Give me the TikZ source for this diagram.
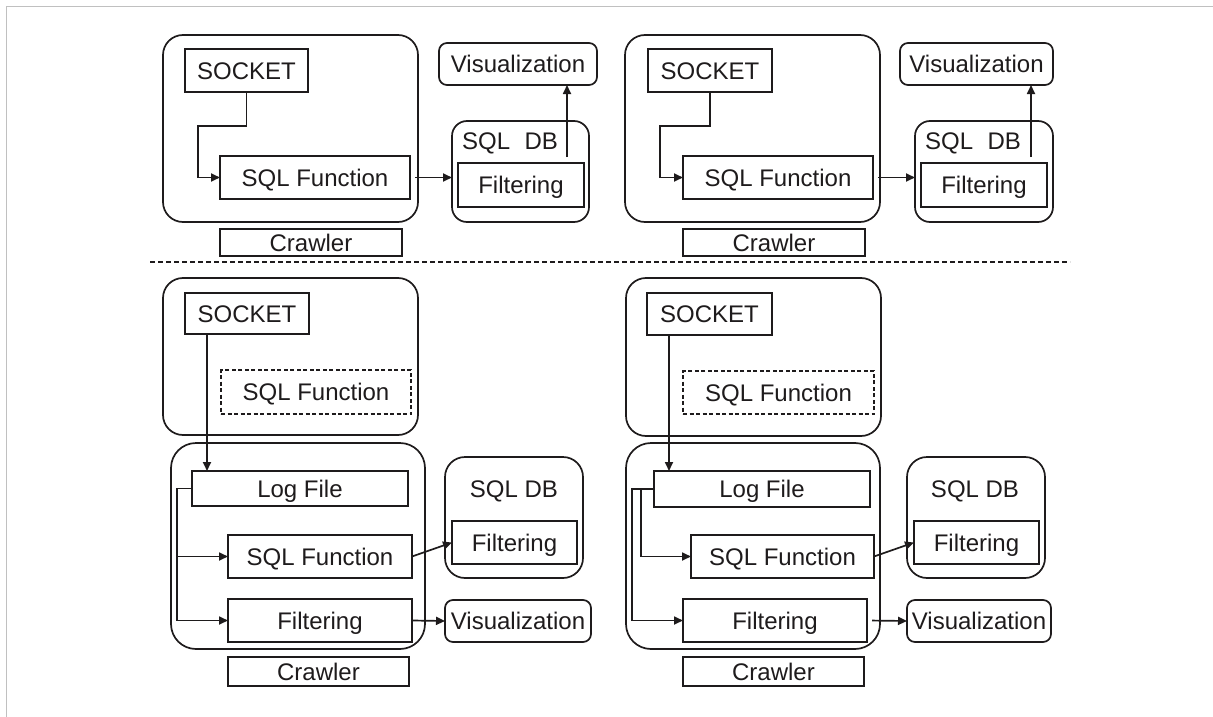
\documentclass[tikz,border=0pt]{standalone}
\usepackage{fontspec}
\setmainfont{Liberation Sans}
\usetikzlibrary{arrows.meta,calc}

\definecolor{ink}{RGB}{30,27,28}
\definecolor{framegray}{RGB}{192,192,192}

% box given by its corners (x1,y1)-(x2,y2) in pixel units, y downwards
\newcommand\bx[6]{\node[#1, minimum width={(#4-#2)*1pt}, minimum height={(#5-#3)*1pt}] (#6) at ({(#2+#4)/2},{(#3+#5)/2})}

\tikzset{
  lbl/.style={font=\fontsize{24}{28}\selectfont, text=ink, inner sep=0pt},
  box/.style={lbl, draw=ink, line width=1.9pt, outer sep=0pt, text height=17pt, text depth=0pt},
  dbox/.style={box, dash pattern=on 4pt off 2.5pt, line width=1.6pt},
  rbox/.style={box, line width=1.7pt, rounded corners=8pt},
  group/.style={draw=ink, line width=1.7pt, inner sep=0pt, outer sep=0pt, rounded corners=#1},
  arr/.style={draw=ink, line width=1.7pt, -{Triangle[length=9pt,width=8pt]}},
  sep/.style={draw=ink, line width=1.3pt, dash pattern=on 5pt off 3pt},
}

\begin{document}
\begin{tikzpicture}[x=1pt, y=-1pt]
\useasboundingbox (0,0) rectangle (1213,717);
\fill[white] (0,0) rectangle (1213,717);
\draw[framegray, line width=1.5pt] (6.5,717) -- (6.5,6.5) -- (1213,6.5);

% ---------- upper left: crawler writes straight into the database ----------
\bx{group=20pt}{163}{35}{418}{222}{crawlA} {};
\bx{box}{185}{49}{308}{92}{sockA} {SOCKET};
\bx{box}{220}{156}{410}{199}{sqlfA} {SQL Function};
\bx{box}{220}{229}{402}{256}{nameA} {Crawler};
\bx{rbox}{439}{43}{597}{85}{visA} {Visualization};
\bx{group=15pt}{452}{121}{589}{222}{dbA} {};
\node[lbl] (dbtA) at (510,143) {SQL\hspace{0.6em}DB};
\bx{box}{458}{163}{584}{207}{filtA} {Filtering};
\draw[arr] (sockA.south) |- (198,126) |- (sqlfA.west);
\draw[arr, shorten <=5pt] (sqlfA.east) -- (sqlfA.east -| dbA.west);
\coordinate (upA) at (567,157);
\draw[arr] (upA) -- (upA |- visA.south);

% ---------- upper right ----------
\bx{group=20pt}{625}{35}{880}{222}{crawlB} {};
\bx{box}{648}{49}{772}{92}{sockB} {SOCKET};
\bx{box}{683}{156}{873}{199}{sqlfB} {SQL Function};
\bx{box}{683}{229}{865}{256}{nameB} {Crawler};
\bx{rbox}{900}{43}{1053}{85}{visB} {Visualization};
\bx{group=15pt}{915}{121}{1053}{222}{dbB} {};
\node[lbl] (dbtB) at (973,143) {SQL\hspace{0.6em}DB};
\bx{box}{921}{163}{1047}{207}{filtB} {Filtering};
\draw[arr] (sockB.south) |- (660,126) |- (sqlfB.west);
\draw[arr, shorten <=5pt] (sqlfB.east) -- (sqlfB.east -| dbB.west);
\coordinate (upB) at (1031,157);
\draw[arr] (upB) -- (upB |- visB.south);

% separator
\draw[sep] (150,262) -- (1070,262);

% ---------- lower left: crawler goes through a log file ----------
\bx{group=20pt}{163}{278}{418}{435}{srcC} {};
\bx{box}{185}{293}{309}{334}{sockC} {SOCKET};
\bx{dbox}{221}{370}{411}{414}{oldC} {SQL Function};
\bx{group=25pt}{171}{443}{425}{649}{crawlC} {};
\bx{box}{192}{471}{408}{506}{logC} {Log File};
\bx{box}{228}{535}{412}{578}{sqlfC} {SQL Function};
\bx{box}{228}{599}{412}{642}{filtC} {Filtering};
\bx{box}{228}{657}{409}{686}{nameC} {Crawler};
\bx{group=20pt}{445}{457}{583}{578}{dbC} {};
\node[lbl] (dbtC) at (514,491) {SQL DB};
\bx{box}{452}{521}{577}{564}{dbfC} {Filtering};
\bx{rbox}{445}{600}{591}{642}{visC} {Visualization};
\draw[arr] ([xshift=22pt]sockC.south west) -- ([xshift=15pt]logC.north west);
\draw[arr] (logC.west) -- ++(-15,0) |- (sqlfC.west);
\draw[arr] (logC.west) ++(-15,0) |- (filtC.west);
\draw[arr] (sqlfC.east) -- (dbfC.west);
\draw[arr] (filtC.east) -- (visC.west);

% ---------- lower right ----------
\bx{group=20pt}{626}{278}{881}{436}{srcD} {};
\bx{box}{647}{293}{772}{335}{sockD} {SOCKET};
\bx{dbox}{683}{371}{874}{414}{oldD} {SQL Function};
\bx{group=25pt}{626}{443}{880}{649}{crawlD} {};
\bx{box}{654}{471}{870}{507}{logD} {Log File};
\bx{box}{691}{535}{874}{578}{sqlfD} {SQL Function};
\bx{box}{683}{599}{867}{642}{filtD} {Filtering};
\bx{box}{683}{657}{864}{686}{nameD} {Crawler};
\bx{group=20pt}{907}{457}{1045}{578}{dbD} {};
\node[lbl] (dbtD) at (975,491) {SQL DB};
\bx{box}{914}{521}{1039}{564}{dbfD} {Filtering};
\bx{rbox}{907}{600}{1051}{642}{visD} {Visualization};
\draw[arr] ([xshift=22pt]sockD.south west) -- ([xshift=15pt]logD.north west);
\draw[arr] (logD.west) -- ++(-13,0) |- (sqlfD.west);
\draw[arr] (logD.west) -- ++(-22,0) |- (filtD.west);
\draw[arr, shorten <=1pt] (sqlfD.east) -- (dbfD.west);
\draw[arr, shorten <=5pt] (filtD.east) -- (visD.west);
\end{tikzpicture}
\end{document}
